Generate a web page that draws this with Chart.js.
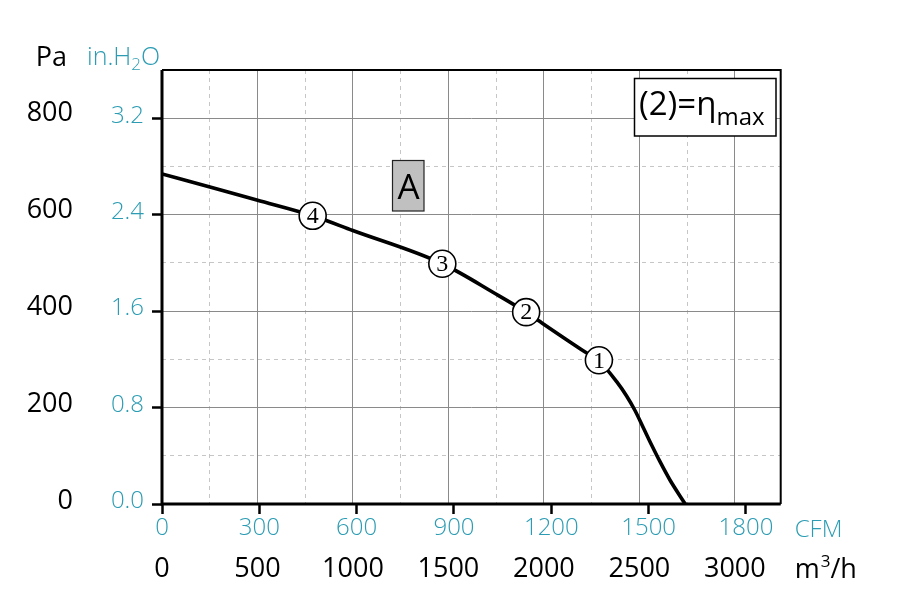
<!DOCTYPE html>
<html><head><meta charset="utf-8">
<script src="https://cdn.jsdelivr.net/npm/chart.js@4.4.1/dist/chart.umd.min.js"></script>
<style>html,body{margin:0;padding:0;background:#fff;overflow:hidden}#wrap{width:907px;height:604px}</style>
</head><body><div id="wrap"><canvas id="c" width="907" height="604"></canvas></div>
<script>
// ---- data ----
const flowM3h    = [0, 251, 496, 789, 999, 1468, 1744, 1907, 1971, 2216, 2288, 2381, 2433, 2477, 2520, 2564, 2608, 2660, 2740];
const pressurePa = [682, 655, 628, 595.5, 565, 496.4, 435, 396.4, 379, 314, 296, 252.7, 223.1, 193.2, 158.1, 121.9, 87.4, 49.6, 0];
const markerFlow = [789, 1468, 1907, 2288];
const markerPa   = [595.5, 496.4, 396.4, 297];
const markerLabels = ['4', '3', '2', '1'];
const m3hTicks   = [0, 500, 1000, 1500, 2000, 2500, 3000];
const cfmTicks   = [0, 300, 600, 900, 1200, 1500, 1800];
const paTicks    = [0, 200, 400, 600, 800];
const inH2OTicks = [0, 0.8, 1.6, 2.4, 3.2];
const m3hMinorTicks = [250, 750, 1250, 1750, 2250, 2750];
const inH2OMinorTicks = [0.4, 1.2, 2.0, 2.8];

const M3H_PER_CFM = 1.699011;
const PA_PER_INH2O = 249.0889;
const xMaxM3h = 3240;
const yMaxInH2O = 3.6;

const TEAL = '#2b9cb3';
const FONT = "'Open Sans', 'DejaVu Sans', sans-serif";
const GRID = '#8a8a8a';
const GRID_DASH = '#c6c6c6';

const setTicks = arr => (s) => { s.ticks = arr.map(v => ({value: v})); };

const decor = {
  id: 'decor',
  afterDatasetsDraw(chart) {
    const ctx = chart.ctx;
    const meta = chart.getDatasetMeta(0);
    ctx.save();
    ctx.fillStyle = '#000';
    ctx.font = "24px 'Liberation Serif', serif";
    ctx.textAlign = 'center';
    ctx.textBaseline = 'middle';
    meta.data.forEach((el, i) => ctx.fillText(markerLabels[i], el.x, el.y + 1));
    ctx.restore();
  },
  afterDraw(chart) {
    const ctx = chart.ctx;
    const a = chart.chartArea;
    ctx.save();
    // frame
    ctx.strokeStyle = '#000';
    ctx.lineWidth = 2;
    ctx.beginPath();
    ctx.moveTo(a.left, a.top); ctx.lineTo(a.right, a.top); ctx.lineTo(a.right, a.bottom);
    ctx.stroke();
    ctx.lineWidth = 3;
    ctx.beginPath();
    ctx.moveTo(a.left, a.top); ctx.lineTo(a.left, a.bottom + 1.5);
    ctx.moveTo(a.left - 1.5, a.bottom); ctx.lineTo(a.right, a.bottom);
    ctx.stroke();

    // axis unit titles
    ctx.textBaseline = 'alphabetic';
    ctx.fillStyle = '#000';
    ctx.font = '27px ' + FONT;
    ctx.textAlign = 'right';
    ctx.fillText('Pa', 67, 66);
    ctx.textAlign = 'left';
    ctx.fillStyle = TEAL;
    ctx.font = '300 25px ' + FONT;
    let x = 87;
    ctx.fillText('in.H', x, 65); x += ctx.measureText('in.H').width;
    ctx.font = '300 17px ' + FONT;
    ctx.fillText('2', x, 70); x += ctx.measureText('2').width;
    ctx.font = '300 25px ' + FONT;
    ctx.fillText('O', x, 65);

    ctx.font = '300 24px ' + FONT;
    ctx.fillText('CFM', a.right + 14, 537);
    ctx.fillStyle = '#000';
    x = a.right + 14;
    ctx.font = '27px ' + FONT;
    ctx.fillText('m', x, 578); x += ctx.measureText('m').width + 1;
    ctx.font = '17px ' + FONT;
    ctx.fillText('3', x, 567); x += ctx.measureText('3').width;
    ctx.font = '27px ' + FONT;
    ctx.fillText('/h', x, 578);

    // "A" label box
    ctx.fillStyle = '#c0c0c0';
    ctx.fillRect(392.5, 160.5, 31.5, 50.5);
    ctx.strokeStyle = '#222';
    ctx.lineWidth = 1.2;
    ctx.strokeRect(392.5, 160.5, 31.5, 50.5);
    ctx.fillStyle = '#000';
    ctx.font = '35px ' + FONT;
    ctx.textAlign = 'center';
    ctx.fillText('A', 408.5, 198.5);

    // (2)=eta_max box
    ctx.fillStyle = '#fff';
    ctx.fillRect(634.5, 78.5, 141.5, 57.5);
    ctx.strokeStyle = '#000';
    ctx.lineWidth = 1.5;
    ctx.strokeRect(634.5, 78.5, 141.5, 57.5);
    ctx.fillStyle = '#000';
    ctx.textAlign = 'left';
    ctx.font = '33px ' + FONT;
    x = 639;
    ctx.fillText('(2)=η', x, 115); x += ctx.measureText('(2)=η').width;
    ctx.font = '24px ' + FONT;
    ctx.fillText('max', x, 125);
    ctx.restore();
  }
};

const fixW = w => (s) => { s.width = w; };
const fixH = h => (s) => { s.height = h; };
const plain = v => String(v);
const raised = v => [String(v), ''];

new Chart(document.getElementById('c'), {
  type: 'line',
  data: {
    datasets: [
      {
        type: 'scatter',
        data: markerFlow.map((v, i) => ({x: v, y: markerPa[i]})),
        xAxisID: 'x', yAxisID: 'y',
        pointRadius: 13.5, pointHoverRadius: 13.5,
        pointBackgroundColor: '#fff', pointBorderColor: '#000', pointBorderWidth: 1.6,
        showLine: false, order: 0
      },
      {
        data: flowM3h.map((v, i) => ({x: v, y: pressurePa[i]})),
        xAxisID: 'x', yAxisID: 'y',
        borderColor: '#000', borderWidth: 3.6, pointRadius: 0,
        cubicInterpolationMode: 'monotone', fill: false, order: 1
      }
    ]
  },
  options: {
    responsive: false, animation: false, devicePixelRatio: 1,
    layout: {padding: {top: 70, right: 126.3, bottom: 8, left: 0}},
    plugins: {legend: {display: false}, tooltip: {enabled: false}},
    scales: {
      x: {
        type: 'linear', position: 'bottom', axis: 'x', weight: 10,
        min: 0, max: xMaxM3h,
        afterBuildTicks: setTicks(m3hTicks), afterFit: fixH(52),
        grid: {color: GRID, lineWidth: 1, drawTicks: false},
        border: {display: false},
        ticks: {color: '#000', font: {family: FONT, size: 27}, padding: 9, maxRotation: 0, autoSkip: false, callback: plain}
      },
      xCfm: {
        type: 'linear', position: 'bottom', axis: 'x', weight: 5,
        min: 0, max: xMaxM3h / M3H_PER_CFM,
        afterBuildTicks: setTicks(cfmTicks), afterFit: fixH(40),
        grid: {drawOnChartArea: false, drawTicks: true, tickLength: 10, tickColor: '#000', tickWidth: 2.5},
        border: {display: false},
        ticks: {color: TEAL, font: {family: FONT, size: 24, weight: 300}, padding: 0, maxRotation: 0, autoSkip: false, callback: plain}
      },
      xd: {
        type: 'linear', position: 'bottom', axis: 'x', weight: 0,
        min: 0, max: xMaxM3h,
        afterBuildTicks: setTicks(m3hMinorTicks), afterFit: fixH(0),
        grid: {color: GRID_DASH, lineWidth: 1, drawTicks: false},
        border: {display: false, dash: [4, 4]},
        ticks: {display: false}
      },
      y: {
        type: 'linear', position: 'left', axis: 'y', weight: 10,
        min: 0, max: yMaxInH2O * PA_PER_INH2O,
        afterBuildTicks: setTicks(paTicks), afterFit: fixW(80),
        grid: {display: false, drawTicks: false, drawOnChartArea: false},
        border: {display: false},
        ticks: {color: '#000', font: {family: FONT, size: 27, lineHeight: '6px'}, padding: 7, callback: raised}
      },
      yIn: {
        type: 'linear', position: 'left', axis: 'y', weight: 5,
        min: 0, max: yMaxInH2O,
        afterBuildTicks: setTicks(inH2OTicks), afterFit: fixW(82),
        grid: {color: GRID, lineWidth: 1, drawTicks: true, tickLength: 10, tickColor: '#000', tickWidth: 2.5},
        border: {display: false},
        ticks: {color: TEAL, font: {family: FONT, size: 24, weight: 300, lineHeight: '5px'}, padding: 8,
                callback: v => [Number(v).toFixed(1), '']}
      },
      yd: {
        type: 'linear', position: 'left', axis: 'y', weight: 0,
        min: 0, max: yMaxInH2O,
        afterBuildTicks: setTicks(inH2OMinorTicks), afterFit: fixW(0),
        grid: {color: GRID_DASH, lineWidth: 1, drawTicks: false},
        border: {display: false, dash: [4, 4]},
        ticks: {display: false}
      }
    }
  },
  plugins: [decor]
});
</script>
</body></html>
